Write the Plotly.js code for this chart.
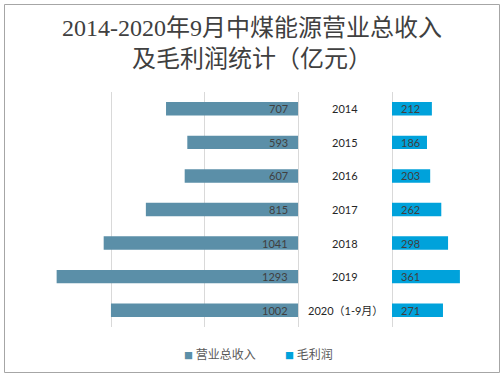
<!DOCTYPE html>
<html>
<head>
<meta charset="utf-8">
<script src="https://cdn.plot.ly/plotly-3.0.1.min.js"></script>
<style>html,body{margin:0;padding:0;background:#fff;}#chart{width:504px;height:376px;}</style>
</head>
<body>
<div id="chart"></div>
<script>
const years = ['2014', '2015', '2016', '2017', '2018', '2019', '2020（1-9月）'];
const revenue = [707, 593, 607, 815, 1041, 1293, 1002];
const profit = [212, 186, 203, 262, 298, 361, 271];
const seriesNames = ['营业总收入', '毛利润'];
const colors = ['#5B8FA8', '#00A2DB'];

const W = 504, H = 376;
const px = v => v / W;
const py = v => 1 - v / H;

const txtFont = {family: 'Lato, "Liberation Sans", "Noto Sans CJK SC"', size: 11, color: '#404040'};

const traces = [
  {type: 'bar', orientation: 'h', name: seriesNames[0], x: revenue, y: years,
   xaxis: 'x', yaxis: 'y', width: 0.4, marker: {color: colors[0]}, hoverinfo: 'x+y'},
  {type: 'bar', orientation: 'h', name: seriesNames[1], x: profit, y: years,
   xaxis: 'x2', yaxis: 'y', width: 0.4, marker: {color: colors[1]}, hoverinfo: 'x+y'}
];

const annotations = [];
years.forEach((yr, i) => {
  annotations.push({xref: 'x', yref: 'y', x: 0, y: i, text: String(revenue[i]),
    xanchor: 'right', xshift: -8, showarrow: false, font: txtFont});
  annotations.push({xref: 'x2', yref: 'y', x: 0, y: i, text: String(profit[i]),
    xanchor: 'left', xshift: 7, showarrow: false, font: txtFont});
  annotations.push({xref: 'paper', yref: 'y', x: px(345), y: i, text: yr,
    xanchor: 'center', showarrow: false,
    font: {family: 'Lato, "Noto Sans CJK SC"', size: 11, color: '#262626'}});
});
const legX = [182, 283];
seriesNames.forEach((n, i) => {
  annotations.push({xref: 'paper', yref: 'paper', x: px(legX[i]), y: py(353),
    xanchor: 'left', yanchor: 'middle', showarrow: false,
    text: '<span style="font-size:9px;color:' + colors[i] + '">■</span> ' + n,
    font: {family: '"Noto Sans CJK SC"', size: 12, color: '#595959'}});
});

const gridCol = '#d9d9d9';
const layout = {
  width: W, height: H,
  margin: {l: 0, r: 0, t: 0, b: 0},
  paper_bgcolor: '#fff', plot_bgcolor: 'rgba(0,0,0,0)',
  showlegend: false,
  title: {
    text: '2014-2020年9月中煤能源营业总收入<br>及毛利润统计（亿元）',
    font: {family: '"Liberation Serif", "Noto Sans CJK SC"', size: 24, color: '#404040'},
    x: 0.5, xanchor: 'center', xref: 'paper',
    y: py(36), yanchor: 'top', yref: 'container'
  },
  xaxis: {domain: [px(18), px(298)], range: [1500, 0], tickvals: [0, 500, 1000],
    showgrid: true, gridcolor: gridCol, gridwidth: 1, zeroline: true, zerolinecolor: gridCol,
    zerolinewidth: 1, showticklabels: false, showline: false, ticks: '', fixedrange: true},
  xaxis2: {domain: [px(392), px(487)], range: [0, 505], tickvals: [0, 500], anchor: 'y',
    showgrid: true, gridcolor: gridCol, gridwidth: 1, zeroline: true, zerolinecolor: gridCol,
    zerolinewidth: 1, showticklabels: false, showline: false, ticks: '', fixedrange: true},
  yaxis: {domain: [py(327), py(92)], type: 'category', range: [years.length - 0.5, -0.5],
    autorange: false,
    showticklabels: false, showgrid: false, zeroline: false, showline: false, ticks: '', fixedrange: true},
  annotations: annotations,
  shapes: [{type: 'rect', xref: 'paper', yref: 'paper', x0: px(4.5), x1: px(499.5),
    y0: py(372.5), y1: py(4.5), line: {color: '#a6a6a6', width: 1}, fillcolor: 'rgba(0,0,0,0)'}]
};

Plotly.newPlot('chart', traces, layout, {staticPlot: true, displayModeBar: false});
</script>
</body>
</html>
